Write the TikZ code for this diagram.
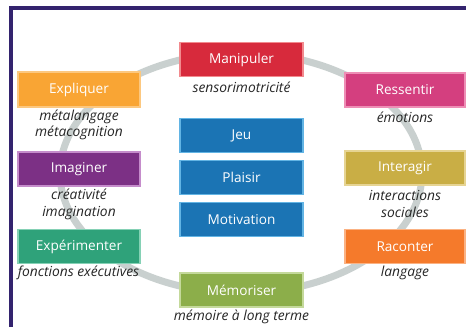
\documentclass[tikz,border=0pt]{standalone}
\usepackage{fontspec}
\setmainfont{Open Sans}
\definecolor{frame}{HTML}{33236E}
\definecolor{ring}{HTML}{C9D0CF}
\definecolor{cred}{HTML}{D72A3C}\definecolor{bred}{HTML}{F28A8E}
\definecolor{corange}{HTML}{F9A534}\definecolor{borange}{HTML}{FCC880}
\definecolor{cpink}{HTML}{D43F7F}\definecolor{bpink}{HTML}{EE8DB5}
\definecolor{cpurple}{HTML}{7C3085}\definecolor{bpurple}{HTML}{C58CCB}
\definecolor{cmustard}{HTML}{C9AE45}\definecolor{bmustard}{HTML}{E6D493}
\definecolor{cgreen}{HTML}{2FA27A}\definecolor{bgreen}{HTML}{85D1B5}
\definecolor{corange2}{HTML}{F57A2B}\definecolor{borange2}{HTML}{FBB283}
\definecolor{colive}{HTML}{8CAE4A}\definecolor{bolive}{HTML}{C4D99B}
\definecolor{cblue}{HTML}{1B74B4}\definecolor{bblue}{HTML}{62B4E4}
\tikzset{
  box/.style={rectangle, line width=1.3pt, minimum width=122pt, minimum height=34pt,
    inner sep=0pt, text=white, font=\fontsize{13.6}{15}\selectfont},
  lbl/.style={font=\fontsize{13.8}{16.5}\selectfont\itshape, align=center, inner sep=0pt, text=black!85},
}
\begin{document}
\begin{tikzpicture}[x=1pt,y=-1pt]
\useasboundingbox (0,0) rectangle (466,327);
\fill[white] (0,0) rectangle (466,327);
% frame
\fill[frame] (9,6) rectangle (466,10);
\fill[frame] (9,6) rectangle (13,327);
% ring
\draw[ring, line width=7pt] (241,173) ellipse [x radius=181, y radius=120];
% outer boxes
\node[box, fill=cred, draw=bred, minimum width=123pt] (manip) at (241.5,59.5) {Manipuler};
\node[box, fill=corange, draw=borange, minimum height=35pt] (expl) at (79,89.5) {Expliquer};
\node[box, fill=cpink, draw=bpink, minimum width=120pt] (ress) at (405,90) {Ressentir};
\node[box, fill=cpurple, draw=bpurple] (imag) at (79,169) {Imaginer};
\node[box, fill=cmustard, draw=bmustard, minimum width=120pt] (inter) at (405,168) {Interagir};
\node[box, fill=cgreen, draw=bgreen] (exper) at (79,246.5) {Expérimenter};
\node[box, fill=corange2, draw=borange2, minimum width=120pt] (racon) at (405,246.5) {Raconter};
\node[box, fill=colive, draw=bolive, minimum width=123pt] (memo) at (241.5,290) {Mémoriser};
% central boxes
\node[box, fill=cblue, draw=bblue, minimum width=123pt] (jeu) at (241.5,135.5) {Jeu};
\node[box, fill=cblue, draw=bblue, minimum width=123pt] (plaisir) at (241.5,177.5) {Plaisir};
\node[box, fill=cblue, draw=bblue, minimum width=123pt] (motiv) at (241.5,219.5) {Motivation};
% labels
\node[lbl] (lmanip) at (241.5,87) {sensorimotricité};
\node[lbl] (lexpl) at (79,125) {métalangage\\métacognition};
\node[lbl] (lress) at (405,117) {émotions};
\node[lbl] (limag) at (79,204.5) {créativité\\imagination};
\node[lbl] (linter) at (405,204) {interactions\\sociales};
\node[lbl] (lexper) at (78.5,273) {fonctions exécutives};
\node[lbl] (lracon) at (405,273) {langage};
\node[lbl] (lmemo) at (241.5,317) {mémoire à long terme};
\end{tikzpicture}
\end{document}
